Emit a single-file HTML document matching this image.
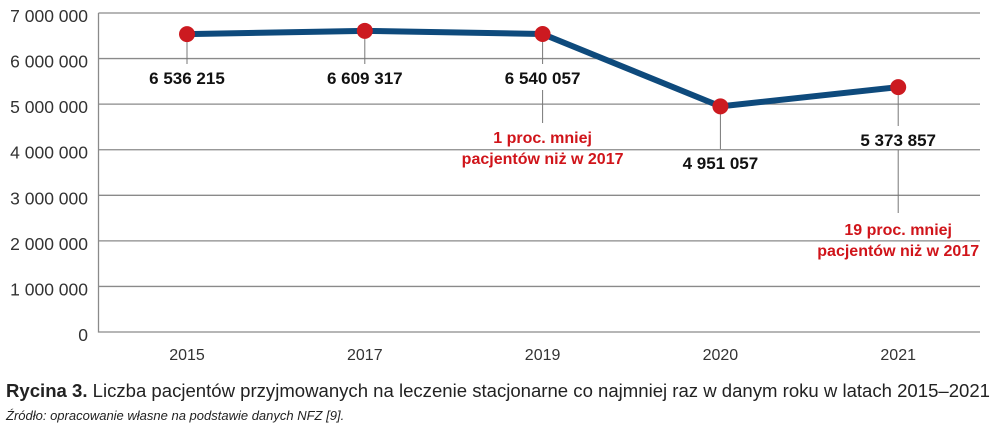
<!DOCTYPE html>
<html><head><meta charset="utf-8"><style>
body{margin:0;background:#fff;}
svg{display:block;font-family:"Liberation Sans",sans-serif;}
</style></head><body>
<svg id="chart" width="1000" height="430">
<g id="grid"></g><g id="axes"></g><g id="annot"></g><g id="series"></g>
<text x="6" y="397" font-size="18" fill="#222" textLength="984" lengthAdjust="spacingAndGlyphs"><tspan font-weight="bold">Rycina 3.</tspan> Liczba pacjentów przyjmowanych na leczenie stacjonarne co najmniej raz w danym roku w latach 2015–2021</text>
<text x="6" y="420" font-size="13" font-style="italic" fill="#222">Źródło: opracowanie własne na podstawie danych NFZ [9].</text>
</svg>
<script>
const categories=["2015","2017","2019","2020","2021"];
const values=[6536215,6609317,6540057,4951057,5373857];
const valueLabels=["6 536 215","6 609 317","6 540 057","4 951 057","5 373 857"];
const yTicks=[0,1000000,2000000,3000000,4000000,5000000,6000000,7000000];
const yTickLabels=["0","1 000 000","2 000 000","3 000 000","4 000 000","5 000 000","6 000 000","7 000 000"];
const NS="http://www.w3.org/2000/svg";
const x0=98.5,x1=980,y0=332,ppm=45.57;
const y=v=>y0-v/1e6*ppm;
const x=i=>187+i*177.8;
function mk(p,t,a){const e=document.createElementNS(NS,t);for(const k in a)e.setAttribute(k,a[k]);p.appendChild(e);return e;}
const grid=document.getElementById('grid'),axes=document.getElementById('axes'),ann=document.getElementById('annot'),ser=document.getElementById('series');
yTicks.forEach((t,i)=>{
 if(t>0){const l=mk(grid,'line',{x1:x0,x2:x1,y1:y(t),y2:y(t),stroke:'#8a8a8a','stroke-width':1.3});
 
 }
 const tx=mk(axes,'text',{x:88,y:y(t)+9,'text-anchor':'end','font-size':17.5,fill:'#333'});
 tx.textContent=yTickLabels[i];
 
 
});
const ax=mk(axes,'path',{d:`M${x0} ${y(7e6)}V${y0}H${x1}`,fill:'none',stroke:'#8a8a8a','stroke-width':1.3});


categories.forEach((c,i)=>{
 const t=mk(axes,'text',{x:x(i),y:360,'text-anchor':'middle','font-size':16,fill:'#333'});
 t.textContent=c;
 
 
});
const labY=[78,78,78,163,140];
categories.forEach((c,i)=>{
 const py=y(values[i]);
 const ld=mk(ann,'line',{x1:x(i),x2:x(i),y1:py,y2:labY[i]-14,stroke:'#777','stroke-width':1});
 
 
 const t=mk(ann,'text',{x:x(i),y:labY[i]+6,'text-anchor':'middle','font-size':17,'font-weight':'bold',fill:'#111'});
 t.textContent=valueLabels[i];
 
 
});
function note(i,ly1,ly2,ty,lines){
 const l=mk(ann,'line',{x1:x(i),x2:x(i),y1:ly1,y2:ly2,stroke:'#777','stroke-width':1});
 
 
 lines.forEach((s,k)=>{const t=mk(ann,'text',{x:x(i),y:ty+k*21,'text-anchor':'middle','font-size':16,'font-weight':'bold',fill:'#d0141a'});
 t.textContent=s;
 
 });
}
note(2,90,123,143,["1 proc. mniej","pacjentów niż w 2017"]);
note(4,150,213,235,["19 proc. mniej","pacjentów niż w 2017"]);
const pl=mk(ser,'polyline',{points:values.map((v,i)=>x(i)+','+y(v)).join(' '),fill:'none',stroke:'#0e4a7c','stroke-width':6,'stroke-linejoin':'round'});


values.forEach((v,i)=>{
 const c=mk(ser,'circle',{cx:x(i),cy:y(v),r:8,fill:'#cc1a20'});
 
 
});
</script>
</body></html>
